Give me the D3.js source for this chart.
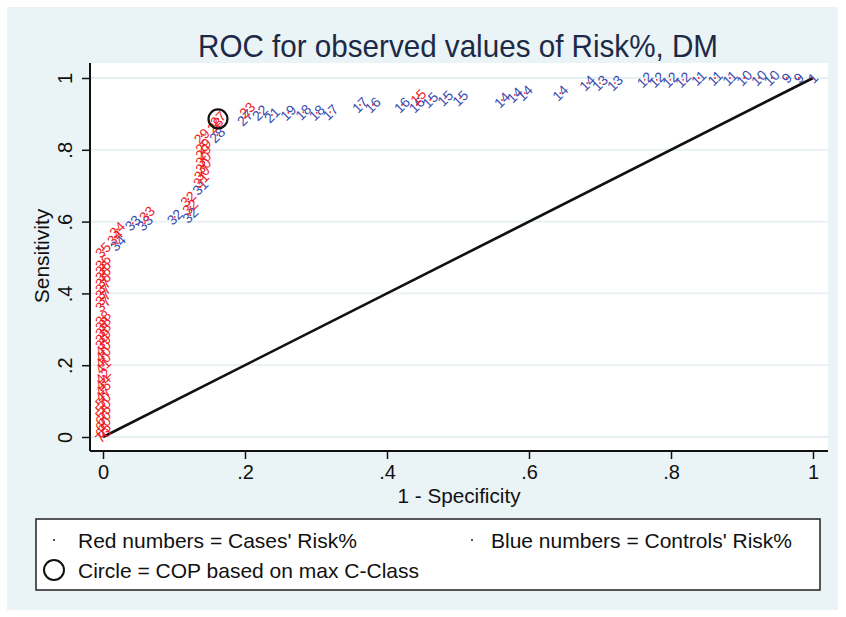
<!DOCTYPE html>
<html>
<head>
<meta charset="utf-8">
<script src="https://cdn.jsdelivr.net/npm/d3@7/dist/d3.min.js"></script>
<style>
  html, body { margin: 0; padding: 0; background: #ffffff; }
  svg { display: block; }
  text { font-family: "Liberation Sans", Arial, Helvetica, sans-serif; }
</style>
</head>
<body>
<svg id="chart" width="846" height="617"></svg>
<script>
// ---------------- DATA ----------------
const titleText = "ROC for observed values of Risk%, DM";
const xTicks = [0, 0.2, 0.4, 0.6, 0.8, 1];
const xTickLabels = ["0", ".2", ".4", ".6", ".8", "1"];
const yTicks = [0, 0.2, 0.4, 0.6, 0.8, 1];
const yTickLabels = ["0", ".2", ".4", ".6", ".8", "1"];

// Cases (red): 1 - specificity, sensitivity, risk%
const caseX = [
  0, 0, 0, 0, 0, 0, 0, 0, 0,
  0, 0, 0, 0, 0, 0, 0, 0, 0,
  0, 0, 0, 0, 0, 0, 0, 0, 0, 0, 0,
  0.017, 0.020, 0.062, 0.123, 0.120, 0.138, 0.139, 0.141, 0.141, 0.141, 0.141, 0.139,
  0.158, 0.162, 0.203, 0.444
];
const caseY = [
  0.521, 0.487, 0.471, 0.454, 0.437, 0.421, 0.404, 0.387, 0.370,
  0.331, 0.315, 0.298, 0.281, 0.265, 0.248, 0.231, 0.214, 0.198,
  0.170, 0.153, 0.136, 0.120, 0.103, 0.086, 0.070, 0.053, 0.036, 0.019, 0.006,
  0.556, 0.578, 0.621, 0.641, 0.663, 0.716, 0.735, 0.755, 0.774, 0.794, 0.811, 0.838,
  0.869, 0.886, 0.911, 0.947
];
const caseRisk = [
  "35", "36", "36", "36", "36", "37", "37", "37", "37",
  "38", "38", "38", "39", "39", "40", "40", "40", "41",
  "42", "44", "45", "47", "50", "50", "55", "60", "60", "65", "70",
  "34", "34", "33", "32", "32", "31", "30", "30", "30", "29", "29", "29",
  "28", "27", "23", "15"
];

// Controls (blue)
const ctrlX = [
  0.021, 0.042, 0.059, 0.101, 0.123, 0.137, 0.161, 0.200,
  0.221, 0.238, 0.261, 0.282, 0.301, 0.320, 0.362, 0.380, 0.421, 0.442,
  0.461, 0.482, 0.503, 0.562, 0.580, 0.594, 0.644, 0.682, 0.700, 0.721,
  0.763, 0.780, 0.799, 0.817, 0.839, 0.862, 0.883, 0.903, 0.924, 0.942,
  0.963, 0.980, 1.000
];
const ctrlY = [
  0.540, 0.596, 0.596, 0.613, 0.618, 0.696, 0.841, 0.889,
  0.903, 0.897, 0.903, 0.905, 0.903, 0.905, 0.925, 0.925, 0.925, 0.925,
  0.939, 0.944, 0.944, 0.939, 0.953, 0.958, 0.958, 0.986, 0.986, 0.986,
  0.995, 0.995, 0.995, 0.995, 1.000, 1.000, 1.000, 1.000, 1.000, 1.000,
  1.000, 1.000, 1.000
];
const ctrlRisk = [
  "34", "33", "33", "32", "32", "31", "28", "27",
  "22", "21", "19", "18", "18", "17", "17", "16", "16", "16",
  "15", "15", "15", "14", "14", "14", "14", "14", "13", "13",
  "12", "12", "12", "12", "11", "11", "11", "10", "10", "10",
  "9", "9", "1"
];

// Cut-off point (max C-Class)
const copX = [0.162];
const copY = [0.886];

const legendItems = ["Red numbers = Cases' Risk%", "Blue numbers = Controls' Risk%", "Circle = COP based on max C-Class"];

// ---------------- DRAW ----------------
const svg = d3.select("#chart");
const RED = "#ee1c25", BLUE = "#3a4bb0", GRID = "#e6f0f2", BG = "#eaf3f5";
const INK = "#111111";

// outer background
svg.append("rect").attr("x", 7).attr("y", 7).attr("width", 831).attr("height", 603).attr("fill", BG);

const plot = { left: 90, right: 828, top: 63, bottom: 451 };
svg.append("rect").attr("x", plot.left).attr("y", plot.top)
  .attr("width", plot.right - plot.left).attr("height", plot.bottom - plot.top).attr("fill", "#ffffff");

const x = d3.scaleLinear().domain([0, 1]).range([103, 813]);
const y = d3.scaleLinear().domain([0, 1]).range([437, 78]);

// gridlines
svg.append("g").selectAll("line").data(yTicks).join("line")
  .attr("x1", plot.left).attr("x2", plot.right)
  .attr("y1", d => y(d)).attr("y2", d => y(d))
  .attr("stroke", GRID).attr("stroke-width", 1.8);

// axes
const xAxis = d3.axisBottom(x).tickValues(xTicks).tickFormat((d, i) => xTickLabels[i]).tickSize(8).tickPadding(6);
const gx = svg.append("g").attr("transform", `translate(0,${plot.bottom})`).call(xAxis);
gx.select(".domain").attr("d", `M${plot.left},0H${plot.right}`).attr("stroke", INK).attr("stroke-width", 2);
gx.selectAll(".tick line").attr("stroke", INK).attr("stroke-width", 1.5);
gx.selectAll(".tick text").attr("font-size", 20).attr("fill", INK).attr("font-family", "Liberation Sans, Arial, sans-serif");

const yAxis = d3.axisLeft(y).tickValues(yTicks).tickFormat((d, i) => yTickLabels[i]).tickSize(8).tickPadding(6);
const gy = svg.append("g").attr("transform", `translate(${plot.left},0)`).call(yAxis);
gy.select(".domain").attr("d", `M0,${plot.top}V${plot.bottom}`).attr("stroke", INK).attr("stroke-width", 2);
gy.selectAll(".tick line").attr("stroke", INK).attr("stroke-width", 1.5);
gy.selectAll(".tick text")
  .attr("font-size", 20).attr("fill", INK).attr("font-family", "Liberation Sans, Arial, sans-serif")
  .attr("text-anchor", "middle").attr("dy", null).attr("x", null)
  .attr("transform", "translate(-25,0) rotate(-90)").attr("dominant-baseline", "central");

// diagonal reference line
svg.append("line").attr("x1", x(0)).attr("y1", y(0)).attr("x2", x(1)).attr("y2", y(1))
  .attr("stroke", INK).attr("stroke-width", 2.6);

// data points
const cases = caseX.map((d, i) => ({ fx: d, se: caseY[i], lab: caseRisk[i] }));
const ctrls = ctrlX.map((d, i) => ({ fx: d, se: ctrlY[i], lab: ctrlRisk[i] }));

function drawLabels(data, color) {
  const g = svg.append("g");
  g.selectAll("text").data(data).join("text")
    .attr("transform", d => `translate(${x(d.fx)},${y(d.se)}) rotate(-45)`)
    .attr("text-anchor", "middle").attr("dominant-baseline", "central")
    .attr("font-size", 14).attr("fill", color)
    .text(d => d.lab);
}
drawLabels(ctrls, BLUE);
drawLabels(cases, RED);

// marker dots
svg.append("g").selectAll("circle").data(cases.concat(ctrls)).join("circle")
  .attr("cx", d => x(d.fx)).attr("cy", d => y(d.se)).attr("r", 0.9).attr("fill", RED);

// COP circle
svg.append("g").selectAll("circle").data(copX).join("circle")
  .attr("cx", (d, i) => x(d)).attr("cy", (d, i) => y(copY[i])).attr("r", 9.5)
  .attr("fill", "none").attr("stroke", INK).attr("stroke-width", 2.2);

// title
svg.append("text").attr("x", 458).attr("y", 57).attr("text-anchor", "middle")
  .attr("font-size", 32).attr("fill", "#1c2a48")
  .attr("textLength", 520).attr("lengthAdjust", "spacingAndGlyphs")
  .text(titleText);

// axis titles
svg.append("text").attr("x", 459).attr("y", 503).attr("text-anchor", "middle")
  .attr("font-size", 21).attr("fill", INK)
  .attr("textLength", 123).attr("lengthAdjust", "spacingAndGlyphs")
  .text("1 - Specificity");
svg.append("text").attr("transform", "translate(49,256) rotate(-90)").attr("text-anchor", "middle")
  .attr("font-size", 21).attr("fill", INK).text("Sensitivity");

// legend
svg.append("rect").attr("x", 36).attr("y", 519).attr("width", 784).attr("height", 71)
  .attr("fill", "#ffffff").attr("stroke", "#222").attr("stroke-width", 1.5);
svg.append("circle").attr("cx", 54).attr("cy", 540).attr("r", 1).attr("fill", "#222");
svg.append("circle").attr("cx", 472).attr("cy", 540).attr("r", 1).attr("fill", "#222");
svg.append("circle").attr("cx", 54).attr("cy", 570).attr("r", 10).attr("fill", "none").attr("stroke", INK).attr("stroke-width", 2);
svg.append("text").attr("x", 78).attr("y", 548).attr("font-size", 21).attr("fill", INK).text(legendItems[0]);
svg.append("text").attr("x", 491).attr("y", 548).attr("font-size", 21).attr("fill", INK).text(legendItems[1]);
svg.append("text").attr("x", 78).attr("y", 578).attr("font-size", 21).attr("fill", INK).text(legendItems[2]);
</script>
</body>
</html>
